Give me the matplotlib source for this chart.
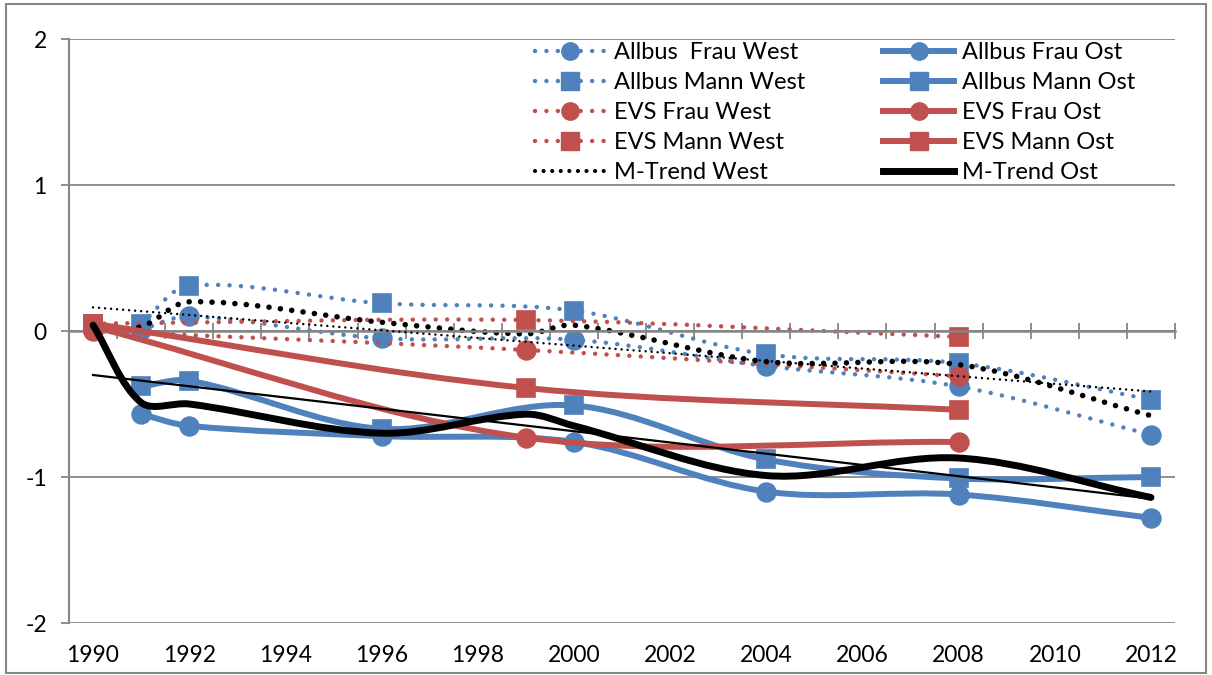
import numpy as np
import matplotlib
matplotlib.use('Agg')
import matplotlib.pyplot as plt
from matplotlib.path import Path
from matplotlib.patches import PathPatch, Rectangle
from matplotlib.lines import Line2D

plt.rcParams['font.family'] = ['Lato', 'DejaVu Sans']
plt.rcParams['axes.unicode_minus'] = False

# data (index values, 1990 = 0)
allbus_years = [1991, 1992, 1996, 2000, 2004, 2008, 2012]
evs_years = [1990, 1999, 2008]
trend_years = [1990, 1991, 1992, 1996, 1999, 2000, 2004, 2008, 2012]

allbus_frau_west = [0.01, 0.10, -0.05, -0.06, -0.24, -0.38, -0.71]
allbus_mann_west = [0.05, 0.31, 0.19, 0.14, -0.16, -0.22, -0.47]
evs_frau_west = [0.00, -0.13, -0.31]
evs_mann_west = [0.05, 0.075, -0.04]
m_trend_west = [0.02, 0.03, 0.20, 0.06, -0.02, 0.04, -0.21, -0.23, -0.58]

allbus_frau_ost = [-0.57, -0.65, -0.72, -0.76, -1.10, -1.12, -1.28]
allbus_mann_ost = [-0.38, -0.34, -0.67, -0.51, -0.88, -1.01, -1.00]
evs_frau_ost = [0.03, -0.73, -0.76]
evs_mann_ost = [0.05, -0.39, -0.54]
m_trend_ost = [0.04, -0.49, -0.50, -0.70, -0.57, -0.65, -0.99, -0.87, -1.14]

x_ticks = list(range(1990, 2013, 2))
y_ticks = [-2, -1, 0, 1, 2]

BLUE = '#4F81BD'
RED = '#C0504D'
GRAY = '#868686'
FS_TICK = 16.5
FS_LEG = 17

fig = plt.figure(figsize=(12.12, 6.75), dpi=100)
ax = fig.add_axes([69 / 1212, 1 - 623 / 675, (1175 - 69) / 1212, (623 - 39) / 675])
ax.set_xlim(1989.5, 2012.5)
ax.set_ylim(-2, 2)


def smooth_path(xs, ys):
    # smoothed line like Excel: Bezier segments, tangent scaled by segment length
    pts = np.column_stack([xs, ys]).astype(float)
    disp = ax.transData.transform(pts)
    n = len(pts)
    verts = [pts[0]]
    codes = [Path.MOVETO]
    for i in range(n - 1):
        a, b = max(i - 1, 0), min(i + 2, n - 1)
        d01 = np.hypot(*(disp[i] - disp[a]))
        d12 = np.hypot(*(disp[i + 1] - disp[i]))
        d23 = np.hypot(*(disp[b] - disp[i + 1]))
        c1 = pts[i] + (pts[i + 1] - pts[a]) * d12 / (3 * (d01 + d12))
        c2 = pts[i + 1] - (pts[b] - pts[i]) * d12 / (3 * (d12 + d23))
        verts += [c1, c2, pts[i + 1]]
        codes += [Path.CURVE4] * 3
    return Path(verts, codes)


def series(xs, ys, color, lw, ls, marker=None, z=2):
    patch = PathPatch(smooth_path(xs, ys), fill=False, edgecolor=color, lw=lw,
                      linestyle=ls, capstyle='round', joinstyle='round', zorder=z)
    ax.add_patch(patch)
    if marker:
        ax.plot(xs, ys, linestyle='none', marker=marker, ms=13.5, color=color,
                mec=color, mew=1.2, zorder=z)


dot_w = (0, (0.01, 2.56))
dot_t = (0, (0.01, 2.05))
dot_thin = (0, (0.01, 2.4))

series(allbus_years, allbus_frau_west, BLUE, 3.2, dot_w, 'o')
series(allbus_years, allbus_mann_west, BLUE, 3.2, dot_w, 's')
series(evs_years, evs_frau_west, RED, 3.2, dot_w, 'o')
series(evs_years, evs_mann_west, RED, 3.2, dot_w, 's')
series(trend_years, m_trend_west, 'black', 4.0, dot_t)
series(allbus_years, allbus_frau_ost, BLUE, 4.3, '-', 'o', z=3)
series(allbus_years, allbus_mann_ost, BLUE, 4.3, '-', 's', z=3)
series(evs_years, evs_frau_ost, RED, 4.3, '-', 'o', z=3)
series(evs_years, evs_mann_ost, RED, 4.3, '-', 's', z=3)
series(trend_years, m_trend_ost, 'black', 5.0, '-', z=3)

# linear trendlines of the two M-Trend series
xt = np.array([trend_years[0], trend_years[-1]])
kw, dw = np.polyfit(trend_years, m_trend_west, 1)
ko, do = np.polyfit(trend_years, m_trend_ost, 1)
ax.plot(xt, kw * xt + dw, color='black', lw=1.8, linestyle=dot_thin,
        dash_capstyle='round', zorder=4)
ax.plot(xt, ko * xt + do, color='black', lw=1.6, zorder=4)

# axes styling
for s in ['top', 'right']:
    ax.spines[s].set_visible(False)
ax.spines['left'].set_color(GRAY)
ax.spines['left'].set_linewidth(1.5)
ax.spines['bottom'].set_position(('data', 0))
ax.spines['bottom'].set_color(GRAY)
ax.spines['bottom'].set_linewidth(1.8)
ax.set_axisbelow(True)
ax.yaxis.grid(True, color=GRAY, lw=1.3)
ax.set_yticks(y_ticks)
ax.tick_params(axis='y', direction='out', length=6, width=1.3, color=GRAY,
               pad=10, labelsize=FS_TICK)
ax.set_xticks(np.arange(1989.5, 2013, 1.0))
ax.tick_params(axis='x', direction='inout', length=12, width=1.3, color=GRAY,
               labelbottom=False)

sec = ax.secondary_xaxis(0)
sec.set_xticks(x_ticks)
sec.set_xticklabels([str(y) for y in x_ticks])
sec.tick_params(length=0, pad=16, labelsize=FS_TICK)
sec.spines['bottom'].set_visible(False)


# legend
def h(color, lw, ls, marker=None):
    return Line2D([], [], color=color, lw=lw, linestyle=ls, marker=marker,
                  ms=12.5, mec=color, dash_capstyle='round')


handles = [h(BLUE, 3.2, dot_w, 'o'), h(BLUE, 3.2, dot_w, 's'),
           h(RED, 3.2, dot_w, 'o'), h(RED, 3.2, dot_w, 's'),
           h('black', 3.0, dot_t),
           h(BLUE, 4.3, '-', 'o'), h(BLUE, 4.3, '-', 's'),
           h(RED, 4.3, '-', 'o'), h(RED, 4.3, '-', 's'),
           h('black', 5.0, '-')]
labels = ['Allbus  Frau West', 'Allbus Mann West', 'EVS Frau West',
          'EVS Mann West', 'M-Trend West',
          'Allbus Frau Ost', 'Allbus Mann Ost', 'EVS Frau Ost',
          'EVS Mann Ost', 'M-Trend Ost']
ax.legend(handles, labels, ncol=2, loc='upper left',
          bbox_to_anchor=(535 / 1212, 1 - 42 / 675), bbox_transform=fig.transFigure,
          frameon=False, fontsize=FS_LEG, handlelength=3.0, handletextpad=0.35,
          columnspacing=3.3, labelspacing=0.38, borderpad=0, borderaxespad=0)

# chart border
fig.patches.append(Rectangle((6 / 1212, 2 / 675), 1200 / 1212, 669 / 675,
                             transform=fig.transFigure, fill=False,
                             edgecolor=GRAY, lw=1.5))

fig.savefig('out.png', dpi=100)
